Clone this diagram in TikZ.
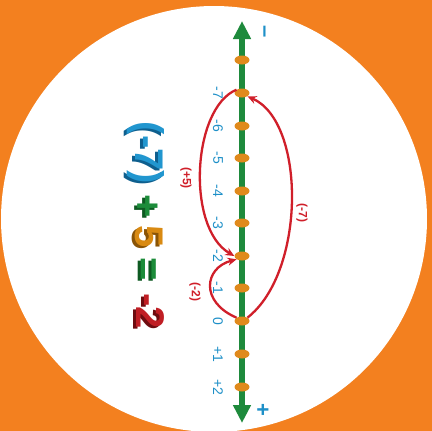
\documentclass[tikz,border=0pt]{standalone}
\usepackage{fontspec}
\setmainfont{Liberation Sans}
\usetikzlibrary{arrows.meta,shapes.geometric}
\definecolor{bgorange}{HTML}{F3801F}
\definecolor{axgreen}{HTML}{1E8A3C}
\definecolor{dotorange}{HTML}{E08A1C}
\definecolor{lblblue}{HTML}{1E90C8}
\definecolor{arcred}{HTML}{D01F2A}
\definecolor{bigblue}{HTML}{2196CF}
\definecolor{bigblued}{HTML}{0E5F8E}
\definecolor{biggreen}{HTML}{1C8C3A}
\definecolor{biggreend}{HTML}{0E5A22}
\definecolor{bigorange}{HTML}{D98A12}
\definecolor{bigoranged}{HTML}{8A5406}
\definecolor{bigred}{HTML}{C01E24}
\definecolor{bigredd}{HTML}{6E0C10}
\begin{document}
\begin{tikzpicture}[x=1pt,y=-1pt,
  numdot/.style={ellipse,fill=dotorange,minimum width=15pt,minimum height=9pt,inner sep=0pt},
  numlbl/.style={text=lblblue,rotate=-90,font=\fontsize{14}{14}\selectfont,inner sep=0pt},
  signlbl/.style={text=lblblue,rotate=-90,font=\fontsize{22}{22}\selectfont\bfseries,inner sep=0pt},
  arclbl/.style={text=arcred,rotate=-90,font=\fontsize{12}{12}\selectfont\bfseries,inner sep=0pt},
  redarc/.style={draw=arcred,line width=2.3pt,-{Stealth[length=9pt,width=8pt]}},
  bigfront/.style={rotate=-90,font=\fontsize{40}{40}\selectfont\bfseries,inner sep=0pt},
  bigback/.style={rotate=-90,font=\fontsize{40}{40}\selectfont\bfseries,inner sep=0pt}
]
\useasboundingbox (0,0) rectangle (432,431);
\fill[bgorange] (0,0) rectangle (432,431);
\fill[white] (214,219) circle[radius=213];
% axis
\coordinate (axtop) at (242,21);
\coordinate (axbot) at (242,423);
\draw[axgreen,line width=6.5pt,{Triangle[length=18pt,width=17pt]}-{Triangle[length=18pt,width=17pt]}] (axtop) -- (axbot);
\node[signlbl] (minus) at (262,32) {\textendash};
\node[signlbl] (plus) at (262,410) {+};
% dots
\node[numdot] (dm8) at (242,60) {};
\node[numdot] (dm7) at (242,93) {};
\node[numdot] (dm6) at (242,126) {};
\node[numdot] (dm5) at (242,158) {};
\node[numdot] (dm4) at (242,191) {};
\node[numdot] (dm3) at (242,223) {};
\node[numdot] (dm2) at (242,256) {};
\node[numdot] (dm1) at (242,288) {};
\node[numdot] (d0) at (242,321) {};
\node[numdot] (dp1) at (242,354) {};
\node[numdot] (dp2) at (242,387) {};
% labels
\node[numlbl] (lm7) at (218,93) {-7};
\node[numlbl] (lm6) at (218,126) {-6};
\node[numlbl] (lm5) at (218,158) {-5};
\node[numlbl] (lm4) at (218,191) {-4};
\node[numlbl] (lm3) at (218,223) {-3};
\node[numlbl] (lm2) at (218,256) {-2};
\node[numlbl] (lm1) at (218,288) {-1};
\node[numlbl] (l0) at (218,321) {0};
\node[numlbl] (lp1) at (218,354) {+1};
\node[numlbl] (lp2) at (218,387) {+2};
% arcs
\draw[redarc] (d0.north east) .. controls (306,272) and (306,122) .. (dm7.south east);
\draw[redarc] (dm7.north west) .. controls (192,108) and (186,228) .. (dm2.west);
\draw[redarc] (d0.north west) .. controls (200,302) and (204,268) .. (dm2.south west);
\node[arclbl] (a1) at (302,213) {(-7)};
\node[arclbl] (a2) at (186,178) {(+5)};
\node[arclbl] (a3) at (195,292) {(-2)};
% big expression
\node[bigback,text=bigblued] at (143,155) {(-7)};
\node[bigfront,text=bigblue] (e1) at (146,153) {(-7)};
\node[bigback,text=biggreend] at (143,208) {+};
\node[bigfront,text=biggreen] (e2) at (146,206) {+};
\node[bigback,text=bigoranged] at (146,239) {5};
\node[bigfront,text=bigorange] (e3) at (149,237) {5};
\node[bigback,text=biggreend] at (143,271) {=};
\node[bigfront,text=biggreen] (e4) at (146,269) {=};
\node[bigback,text=bigredd] at (147,313) {-2};
\node[bigfront,text=bigred] (e5) at (150,311) {-2};
\end{tikzpicture}
\end{document}
